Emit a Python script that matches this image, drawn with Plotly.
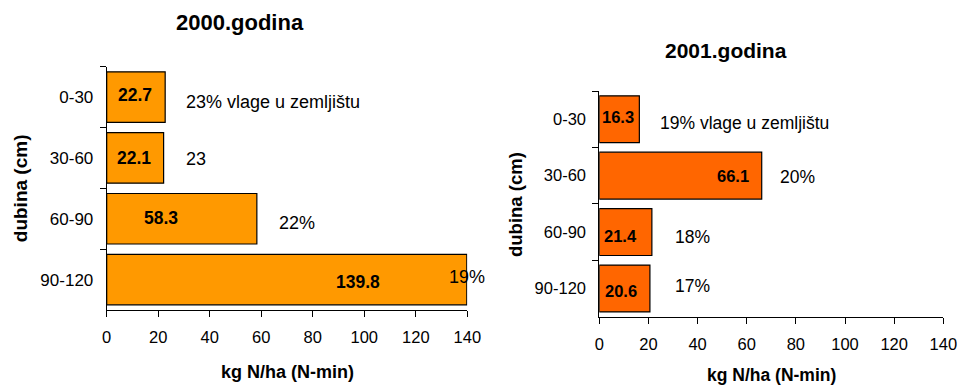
import plotly.graph_objects as go

# ---------------- data ----------------
depths = ["0-30", "30-60", "60-90", "90-120"]
n2000 = [22.7, 22.1, 58.3, 139.8]
n2001 = [16.3, 66.1, 21.4, 20.6]
moist2000 = ["23% vlage u zemljištu", "23", "22%", "19%"]
moist2001 = ["19% vlage u zemljištu", "20%", "18%", "17%"]
x_ticks = [0, 20, 40, 60, 80, 100, 120, 140]
titles = ["2000.godina", "2001.godina"]
x_title = "kg N/ha (N-min)"
y_title = "dubina (cm)"

# ---------------- layout / placement ----------------
W, H = 960, 385
FONT = "Liberation Sans, Arial, sans-serif"


def px(x):
    return x / W


def py(y):
    return 1 - y / H


# label anchors (in axis units) and small pixel shifts, as placed in the original
val_x_2000 = [11.0, 10.7, 21.1, 97.7]
val_dy_2000 = [-2, 0, -1, 2]
moist_x_2000 = [30.2, 30.2, 66.0, 132.0]
moist_dy_2000 = [4.5, 1.5, 4.5, -3]

val_x_2001 = [7.8, 54.5, 8.7, 8.7]
val_dy_2001 = [-2, 0, 4, 3]
moist_x_2001 = [23.7, 72.9, 29.9, 29.9]
moist_dy_2001 = [4, 1, 4.5, -2.5]

panels = [
    dict(vals=n2000, moist=moist2000, color="#FF9900", xa="x", ya="y",
         xdom=[px(106.7), px(467.3)], ydom=[py(310), py(66.7)],
         vx=val_x_2000, vdy=val_dy_2000, mx=moist_x_2000, mdy=moist_dy_2000,
         title=titles[0], tpos=(240, 22.5), xtpos=(287, 372), ytpos=(20.7, 188.5),
         vfs=17.5, mfs=18, afs=18, tfs=22),
    dict(vals=n2001, moist=moist2001, color="#FF6600", xa="x2", ya="y2",
         xdom=[px(599.3), px(943.3)], ydom=[py(316.7), py(91)],
         vx=val_x_2001, vdy=val_dy_2001, mx=moist_x_2001, mdy=moist_dy_2001,
         title=titles[1], tpos=(725.7, 50.5), xtpos=(771.5, 375), ytpos=(516, 205),
         vfs=16.5, mfs=17.5, afs=17.5, tfs=21),
]

fig = go.Figure()
annotations = []

for i, p in enumerate(panels):
    fig.add_trace(go.Bar(
        x=p["vals"], y=depths, orientation="h",
        marker=dict(color=p["color"], line=dict(color="black", width=1.2)),
        xaxis=p["xa"], yaxis=p["ya"], showlegend=False, hoverinfo="x+y",
    ))
    for j, d in enumerate(depths):
        annotations.append(dict(
            x=p["vx"][j], y=d, xref=p["xa"], yref=p["ya"],
            text="<b>%.1f</b>" % p["vals"][j], showarrow=False,
            xanchor="center", yanchor="middle", yshift=-p["vdy"][j],
            font=dict(family=FONT, size=p["vfs"], color="black"),
        ))
        annotations.append(dict(
            x=p["mx"][j], y=d, xref=p["xa"], yref=p["ya"],
            text=p["moist"][j], showarrow=False,
            xanchor="left", yanchor="middle", yshift=-p["mdy"][j],
            font=dict(family=FONT, size=p["mfs"], color="black"),
        ))
    annotations.append(dict(
        x=px(p["tpos"][0]), y=py(p["tpos"][1]), xref="paper", yref="paper",
        text="<b>%s</b>" % p["title"], showarrow=False,
        xanchor="center", yanchor="middle",
        font=dict(family=FONT, size=p["tfs"], color="black"),
    ))
    annotations.append(dict(
        x=px(p["xtpos"][0]), y=py(p["xtpos"][1]), xref="paper", yref="paper",
        text="<b>%s</b>" % x_title, showarrow=False,
        xanchor="center", yanchor="middle",
        font=dict(family=FONT, size=p["afs"], color="black"),
    ))
    annotations.append(dict(
        x=px(p["ytpos"][0]), y=py(p["ytpos"][1]), xref="paper", yref="paper",
        text="<b>%s</b>" % y_title, showarrow=False, textangle=-90,
        xanchor="center", yanchor="middle",
        font=dict(family=FONT, size=p["afs"] + 1, color="black"),
    ))

axis_common_x = dict(
    range=[0, 140], tickvals=x_ticks, showgrid=False, zeroline=False,
    showline=True, linecolor="black", linewidth=1,
    ticks="outside", ticklen=6, tickcolor="black", tickwidth=1,
    fixedrange=True, automargin=False,
)
axis_common_y = dict(
    type="category", categoryorder="array", categoryarray=depths,
    autorange="reversed", showgrid=False, zeroline=False,
    showline=True, linecolor="black", linewidth=1,
    ticks="outside", ticklen=6, tickcolor="black", tickwidth=1,
    tickson="boundaries", fixedrange=True, automargin=False,
)

fig.update_layout(
    width=W, height=H,
    margin=dict(l=0, r=0, t=0, b=0, autoexpand=False),
    paper_bgcolor="white", plot_bgcolor="white",
    bargap=0.17,
    font=dict(family=FONT, color="black"),
    xaxis=dict(axis_common_x, domain=panels[0]["xdom"], anchor="y",
               tickfont=dict(size=16.5), ticklabelstandoff=6),
    yaxis=dict(axis_common_y, domain=panels[0]["ydom"], anchor="x",
               tickfont=dict(size=17), ticklabelstandoff=9),
    xaxis2=dict(axis_common_x, domain=panels[1]["xdom"], anchor="y2",
                tickfont=dict(size=16.5), ticklabelstandoff=6),
    yaxis2=dict(axis_common_y, domain=panels[1]["ydom"], anchor="x2",
                tickfont=dict(size=16.5), ticklabelstandoff=9),
    annotations=annotations,
)

fig.write_html("out.html")
